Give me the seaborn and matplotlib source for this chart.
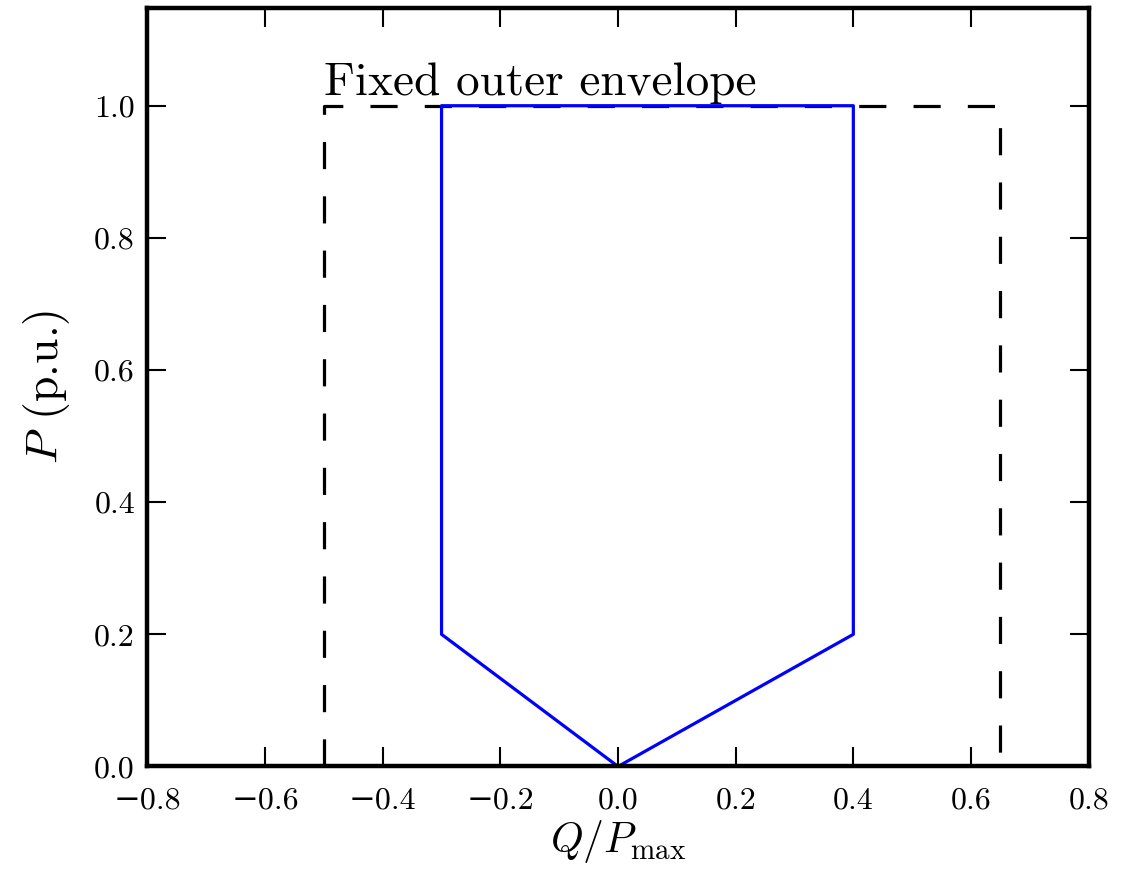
import matplotlib
matplotlib.use("Agg")
import matplotlib.pyplot as plt
import seaborn as sns
import pandas as pd

# Data
outer_q = [-0.5, -0.5, 0.65, 0.65]
outer_p = [0.0, 1.0, 1.0, 0.0]
inner_q = [0.0, -0.3, -0.3, 0.4, 0.4, 0.0]
inner_p = [0.0, 0.2, 1.0, 1.0, 0.2, 0.0]
xticks = [-0.8, -0.6, -0.4, -0.2, 0.0, 0.2, 0.4, 0.6, 0.8]
yticks = [0.0, 0.2, 0.4, 0.6, 0.8, 1.0]
annotation = "Fixed outer envelope"

sns.set_style("ticks")
plt.rcParams['font.family'] = ['cmr10', 'DejaVu Serif']
plt.rcParams['mathtext.fontset'] = 'cm'
plt.rcParams['axes.formatter.use_mathtext'] = True
plt.rcParams['text.color'] = 'black'
plt.rcParams['axes.labelcolor'] = 'black'
plt.rcParams['xtick.color'] = 'black'
plt.rcParams['ytick.color'] = 'black'

fig = plt.figure(figsize=(11.34, 8.81), dpi=100)
ax = fig.add_axes([0.130, 0.130, 0.830, 0.861])

outer = pd.DataFrame({"q": outer_q, "p": outer_p})
inner = pd.DataFrame({"q": inner_q, "p": inner_p})
sns.lineplot(data=outer, x="q", y="p", sort=False, estimator=None, ax=ax,
             color="black", linewidth=2.3, linestyle=(0, (8.5, 8.5)))
sns.lineplot(data=inner, x="q", y="p", sort=False, estimator=None, ax=ax,
             color="blue", linewidth=2.3)

ax.text(-0.5, 1.016, annotation, fontsize=34, ha="left", va="baseline")

ax.set_xlim(-0.8, 0.8)
ax.set_ylim(0.0, 1.148)
ax.set_xticks(xticks)
ax.set_yticks(yticks)
ax.set_xticklabels([("\u2212" if v < 0 else "") + f"{abs(v):.1f}" for v in xticks])
ax.set_yticklabels([f"{v:.1f}" for v in yticks])
ax.tick_params(direction="in", length=14, width=1.5, labelsize=23,
               top=True, right=True)
ax.tick_params(axis="x", pad=15)
ax.tick_params(axis="y", pad=9)
for s in ax.spines.values():
    s.set_linewidth(3.2)
    s.set_color("black")
    s.set_visible(True)
ax.set_xlabel(r"$Q/P_{\max}$", fontsize=30, labelpad=2)
ax.set_ylabel(r"$P$ (p.u.)", fontsize=33, labelpad=16)

fig.savefig("out.png", dpi=100)
